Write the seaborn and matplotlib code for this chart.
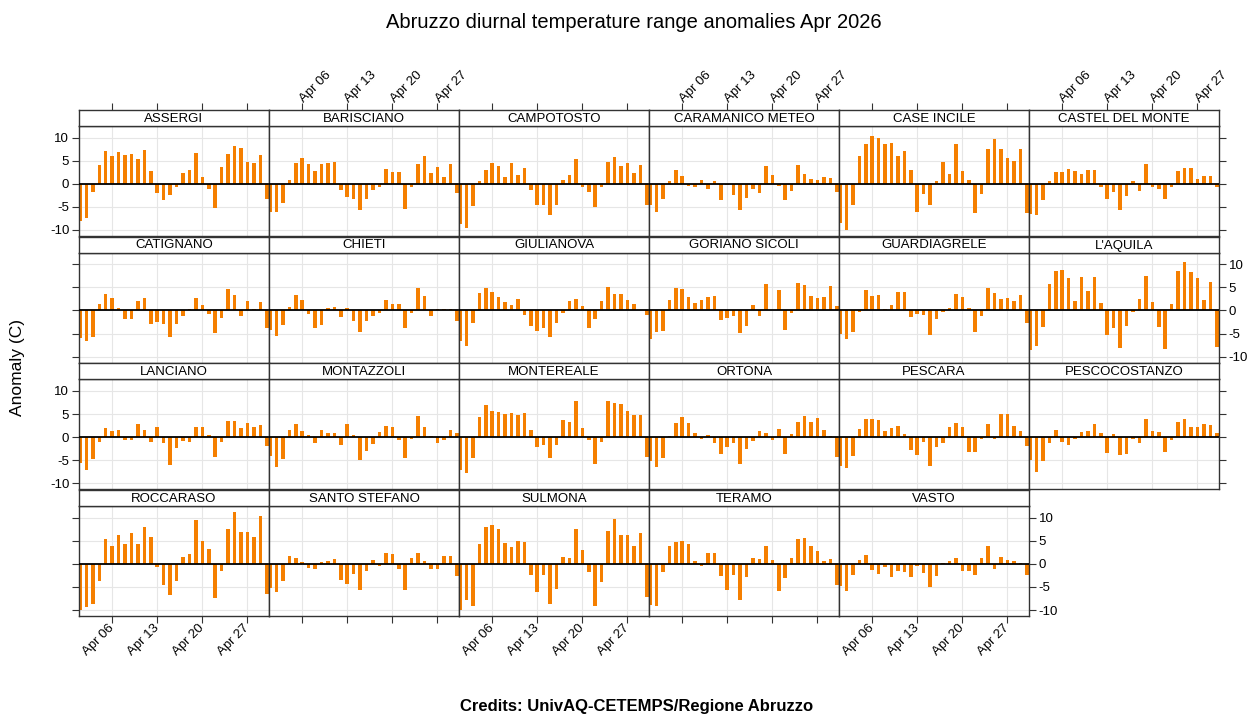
import pandas as pd
import seaborn as sns
import matplotlib.pyplot as plt

# Stazioni e giorni (aprile)
stations = ["ASSERGI", "BARISCIANO", "CAMPOTOSTO", "CARAMANICO METEO", "CASE INCILE", "CASTEL DEL MONTE",
            "CATIGNANO", "CHIETI", "GIULIANOVA", "GORIANO SICOLI", "GUARDIAGRELE", "L'AQUILA",
            "LANCIANO", "MONTAZZOLI", "MONTEREALE", "ORTONA", "PESCARA", "PESCOCOSTANZO",
            "ROCCARASO", "SANTO STEFANO", "SULMONA", "TERAMO", "VASTO"]
days = list(range(1, 31))
tick_days = [6, 13, 20, 27]
tick_labels = ["Apr 06", "Apr 13", "Apr 20", "Apr 27"]

# Anomalie escursione termica (C)
assergi = [-8, -7.5, -1.8, 4, 7, 6, 6.8, 6.2, 6.5, 5.4, 7.3, 2.8, -2, -3.5, -2.4, -0.6, 2.4, 3, 6.6, 1.4, -1.2, -5.2, 3.7, 6.5, 8.1, 7.8, 4.8, 4.4, 6.3, -3.3]
barisciano = [-6, -6.2, -4.2, 0.8, 4.4, 5.6, 4.2, 2.8, 4.3, 4.4, 4.8, -1.4, -2.8, -3.4, -5.6, -3.3, -1.3, -0.7, 3.2, 2.5, 2.5, -5.5, -0.7, 4.2, 6, 2.3, 3.6, 1.4, 4.2, -2]
campotosto = [-8.6, -9.5, -4.9, 0.5, 3.0, 4.5, 3.8, 1.5, 4.5, 1.8, 3.4, -1.3, -4.6, -4.5, -6.7, -4.5, 0.9, 1.8, 5.3, -0.7, -1.8, -5.0, -0.7, 4.7, 5.7, 3.8, 4.5, 2.3, 4.1, -4.5]
caramanico = [-4.6, -6, -3.4, 0.5, 3, 1.6, -0.5, -0.6, 0.9, -1.2, 0.6, -3.6, -0.2, -2.4, -5.6, -3, -1.1, -2, 3.8, 1.8, -0.4, -3.5, -1.5, 4.1, 2.2, 1, 0.9, 1.4, 1.3, -1.7]
case_incile = [-8.5, -10, -4.5, 6, 8.5, 10.3, 9.9, 8.6, 8.8, 6, 7.1, 3, -6, -2.2, -4.5, 0.5, 4.7, 2.2, 8.6, 2.8, 0.8, -6.4, -2.2, 7.6, 9.6, 7.5, 5.6, 4.9, 7.6, -6.4]
castel_del_monte = [-6.5, -6.7, -3.5, 0.5, 2.5, 2.5, 3.1, 2.8, 2.2, 3, 2.9, -0.7, -3.3, -1.8, -5.6, -2.6, 0.6, -1.5, 4.3, -0.8, -1.2, -3.2, -0.7, 2.8, 3.4, 3.4, 1, 1.7, 1.6, -0.8]
catignano = [-6, -6.5, -5.7, 1.4, 3.5, 2.7, 0.5, -1.8, -1.9, 2.0, 2.6, -3, -2.4, -3, -5.8, -2.9, -1.2, 0.3, 2.6, 1.2, -0.8, -4.8, -1.6, 4.6, 3.3, -1.1, 2, 0.3, 1.8, -3.8]
chieti = [-4.3, -5.5, -3.1, 0.7, 3.4, 2.2, -0.8, -3.8, -3.2, 0.6, 0.7, -1.4, 0.5, -2.3, -4.6, -2.2, -1.2, -0.6, 2.3, 1.4, 1.4, -3.8, -0.6, 4.8, 3.1, -1.1, 0.3, 0.3, 0.3, -2.2]
giulianova = [-6.5, -7.7, -2.8, 3.7, 4.8, 4.1, 2.9, 1.8, 1.2, 2.4, -1, -3.3, -4.4, -3.8, -5.7, -2.7, -0.5, 2.0, 2.5, 1, -3.9, -1.9, 2.1, 5, 3.5, 3.6, 2.3, 1.3, 0.2, -1]
goriano_sicoli = [-6.2, -4.7, -4.4, 2.3, 4.8, 4.6, 3, 1.6, 2.3, 2.9, 3.2, -2.1, -1.7, -1.3, -4.8, -3.4, 1.1, -1.3, 5.8, 0.2, 4.5, -4.2, -0.5, 6, 5.6, 3.2, 2.7, 2.9, 5.4, 0.9]
guardiagrele = [-5, -6.2, -4.6, -0.3, 4.4, 3.1, 3.4, 0.3, 1.2, 3.9, 3.9, -1.5, -0.7, -1, -5.4, -1.8, -0.3, 0.6, 3.5, 2.9, 0.6, -4.7, -1.1, 4.8, 3.8, 2.4, 2.8, 2, 3.4, -2.7]
laquila = [-8.6, -7.6, -3.5, 5.7, 8.5, 8.8, 7, 2, 7.2, 4.2, 7.2, 1.7, -5.3, -3.8, -8.2, -3.4, -0.4, 2.5, 7.4, 1.9, -3.5, -8.3, 1.4, 8.5, 10.4, 8.4, 7, 2.2, 6.2, -8]
lanciano = [-5.5, -7, -4.8, -1, 2, 1.3, 1.5, -0.7, -0.6, 2.8, 1.6, -1.1, 2.2, -1.2, -6, -2.4, -0.8, -1.1, 2.1, 2.3, 0.5, -4.3, -1.1, 3.6, 3.6, 1.9, 3, 2.3, 2.7, -2]
montazzoli = [-4, -6.5, -4.8, 1.5, 2.9, 1.3, 0.4, -1.2, 1.6, 1, 0.8, -1.8, 2.8, 0.5, -5, -3, -1.5, 1.2, 2.5, 2.1, -0.7, -4.5, -0.5, 4.5, 2.2, 0.3, -1.3, -0.7, 1.5, 0.8]
montereale = [-7.2, -7.8, -4.4, 4.3, 7, 5.7, 5.4, 5.1, 5.2, 4.7, 5.3, 1.6, -2.2, -1.6, -4.5, -1.6, 3.7, 3.3, 7.9, 1.9, -0.7, -5.7, -1.1, 7.8, 7.3, 7.1, 5.6, 4.9, 4.9, -4.3]
ortona = [-5.2, -6.4, -4.4, 0.3, 3, 4.4, 3.1, 1, -0.5, 0.4, -1.2, -3.6, -2.2, -1.2, -5.8, -2.6, -0.8, 1.3, 1, -0.7, 1.8, -3.6, 0.6, 3.2, 4.6, 3.3, 4.1, 1.6, 0.2, -4.3]
pescara = [-6.3, -6.7, -4, 1.8, 4, 3.9, 3.8, 1.3, 1.9, 2.5, 0.6, -2.7, -3.8, -1, -6.2, -2.2, -1.3, 2.1, 3, 2.3, -3.2, -3.1, -0.4, 2.8, -0.3, 5.1, 5, 2.5, 1.3, -2]
pescocostanzo = [-5, -7.5, -5.1, -1.2, 1.6, -1, -1.7, -0.5, 1.2, 1.4, 2.9, 0.9, -3.5, 0.6, -3.8, -3.6, -0.5, -1.2, 3.9, 1.4, 1.1, -3.3, -0.6, 3.3, 3.9, 2.3, 2.2, 2.9, 2.6, 0.9]
roccaraso = [-10, -9.3, -8.6, -3.8, 5.3, 3.9, 6.3, 4.3, 6.7, 4.4, 8, 5.9, -0.6, -4.5, -6.7, -3.8, 1.5, 2.1, 9.6, 4.9, 3.2, -7.3, -1.6, 7.6, 11.2, 7, 7, 5.9, 10.4, -6.6]
santo_stefano = [-5.2, -6, -3.8, 1.6, 1.3, 0.5, -0.9, -1.1, 0.5, 0.6, 1.1, -3.4, -4.3, -2.1, -5.6, -1.6, 0.8, -0.4, 2.3, 2.1, -1.2, -5.7, 1.2, 2.4, 0.6, -1.2, -1.1, 1.6, 1.6, -2.6]
sulmona = [-9.9, -7.8, -9.1, 4.4, 7.9, 8.5, 7.5, 4.6, 3.6, 5, 4.8, -2.3, -6, -2.5, -8.7, -5.4, 1.4, 1.2, 7.5, 3, -1.8, -9.1, -3.9, 7.1, 9.8, 6.3, 6.2, 3.9, 6.6, -7.1]
teramo = [-9, -9.1, -1.7, 3.9, 4.7, 4.9, 4.3, 0.6, -0.4, 2.4, 2.4, -2.7, -5.7, -2.3, -7.9, -2.8, 1.3, 1, 3.9, 0.8, -5.8, -3.1, 1.2, 5.4, 5.6, 3.8, 2.7, 0.7, 1, -4.6]
vasto = [-4.8, -5.9, -2.3, 0.8, 1.9, -1.4, -2.1, -0.6, -2.8, -1.5, -1.8, -2.8, -0.5, -1.9, -4.9, -2.6, 0.2, 0.6, 1.2, -1.6, -1.5, -2.4, 1.3, 3.9, -1.2, 1.5, 0.8, 0.6, 0.2, -2.5]

series = [assergi, barisciano, campotosto, caramanico, case_incile, castel_del_monte,
          catignano, chieti, giulianova, goriano_sicoli, guardiagrele, laquila,
          lanciano, montazzoli, montereale, ortona, pescara, pescocostanzo,
          roccaraso, santo_stefano, sulmona, teramo, vasto]

# Tabella lunga
df = pd.DataFrame({
    "station": [s for s in stations for _ in days],
    "day": days * len(stations),
    "anom": [v for vals in series for v in vals],
})

sns.set_style("white")
plt.rcParams["font.family"] = ["Liberation Sans", "DejaVu Sans"]
plt.rcParams["axes.unicode_minus"] = False
for k in ["text.color", "axes.labelcolor", "xtick.color", "ytick.color", "xtick.labelcolor", "ytick.labelcolor"]:
    plt.rcParams[k] = "black"

W, H = 1258, 716
fig = plt.figure(figsize=(W / 100, H / 100), dpi=100)


def box(x, y, w, h):
    return [x / W, 1 - (y + h) / H, w / W, h / H]


xlim = (-0.15, 29.35)
ylim = (-11.3, 12.5)
tick_pos = [d - 1 for d in tick_days]
orange = "#f57f00"
edge = "#333333"

for i, name in enumerate(stations):
    r, c = divmod(i, 6)
    x0 = 79 + 190 * c
    y0 = 110 + 126.7 * r
    last_in_row = c == 5 or i == len(stations) - 1

    ax = fig.add_axes(box(x0, y0 + 16, 190, 110))
    sub = df[df["station"] == name]
    sns.barplot(data=sub, x="day", y="anom", color=orange, saturation=1,
                width=0.55, errorbar=None, linewidth=0, ax=ax)
    ax.set_xlim(*xlim)
    ax.set_ylim(*ylim)
    ax.set_xticks(tick_pos)
    ax.set_xticklabels(tick_labels, rotation=45, ha="right", va="center", rotation_mode="anchor")
    ax.set_yticks([-10, -5, 0, 5, 10])
    ax.grid(True, color="#e6e6e6", lw=0.8)
    ax.set_axisbelow(True)
    ax.axhline(0, color="black", lw=1.3, zorder=5)
    ax.set_xlabel("")
    ax.set_ylabel("")
    for s in ax.spines.values():
        s.set_color(edge)
        s.set_linewidth(1.0)
    ax.tick_params(direction="out", length=5, width=0.8, color=edge, labelsize=9.5, pad=2)
    bottom = r == 3
    ax.tick_params(axis="x", bottom=bottom, labelbottom=bottom and c % 2 == 0, top=False, labeltop=False)
    ax.tick_params(axis="y", left=c == 0, labelleft=c == 0 and r % 2 == 0,
                   right=last_in_row, labelright=last_in_row and r % 2 == 1)

    # striscia col nome
    st = fig.add_axes(box(x0, y0, 190, 16))
    st.set_facecolor("white")
    st.set_xlim(*xlim)
    st.set_ylim(0, 1)
    st.set_yticks([])
    st.text(0.5, 0.45, name, transform=st.transAxes, ha="center", va="center", fontsize=9.5)
    for s in st.spines.values():
        s.set_color(edge)
        s.set_linewidth(1.0)
    if r == 0:
        st.set_xticks(tick_pos)
        st.xaxis.tick_top()
        st.set_xticklabels(tick_labels, rotation=45, ha="left", va="center", rotation_mode="anchor")
        st.tick_params(axis="x", direction="out", length=5, width=0.8, color=edge, labelsize=9.5, pad=2,
                       labeltop=c % 2 == 1, bottom=False, labelbottom=False)
    else:
        st.set_xticks([])

fig.text(634 / W, 1 - 22 / H, "Abruzzo diurnal temperature range anomalies Apr 2026",
         ha="center", va="center", fontsize=14.5)
fig.text(18 / W, 1 - 368 / H, "Anomaly (C)", rotation=90, ha="center", va="center", fontsize=12.5)
fig.text(637 / W, 1 - 706 / H, "Credits: UnivAQ-CETEMPS/Regione Abruzzo",
         ha="center", va="center", fontsize=12, fontweight="bold")

fig.savefig("out.png", dpi=100)
